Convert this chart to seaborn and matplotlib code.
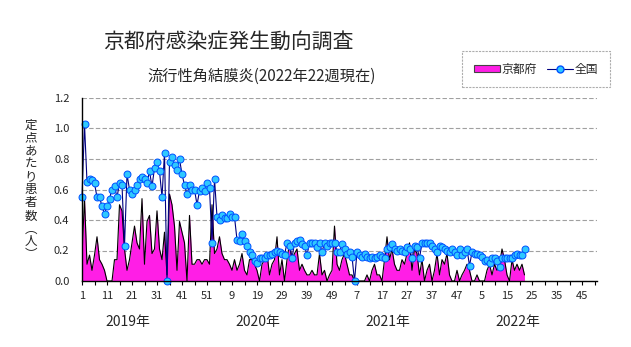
import matplotlib
matplotlib.use("Agg")
import matplotlib.pyplot as plt
import pandas as pd
import seaborn as sns
from matplotlib.patches import Patch
from matplotlib.lines import Line2D

# ---------------- data ----------------
kyoto_2019 = [0.17, 0.54, 0.11, 0.17, 0.07, 0.17, 0.29, 0.14, 0.11, 0.07,
              0.0, 0.0, 0.0, 0.14, 0.14, 0.50, 0.46, 0.21, 0.07, 0.14,
              0.25, 0.36, 0.25, 0.21, 0.54, 0.11, 0.39, 0.43, 0.18, 0.21,
              0.46, 0.21, 0.14, 0.32, 0.04, 0.57, 0.50, 0.36, 0.07, 0.39,
              0.32, 0.25, 0.0, 0.43, 0.11, 0.11, 0.14, 0.14, 0.11, 0.14,
              0.14, 0.11]
kyoto_2020 = [0.50, 0.18, 0.21, 0.29, 0.18, 0.14, 0.14, 0.11, 0.07, 0.14,
              0.07, 0.11, 0.18, 0.07, 0.04, 0.14, 0.14, 0.11, 0.07, 0.0,
              0.11, 0.14, 0.18, 0.04, 0.11, 0.14, 0.29, 0.04,
              0.14, 0.0, 0.14, 0.25, 0.14, 0.18, 0.21, 0.07, 0.11, 0.07,
              0.04, 0.04, 0.07, 0.04, 0.04, 0.18, 0.04, 0.07, 0.0, 0.04,
              0.07, 0.36, 0.11, 0.07]
kyoto_2021 = [0.14, 0.18, 0.11, 0.04, 0.04, 0.0,
              0.0, 0.0, 0.0, 0.0, 0.04, 0.0, 0.07, 0.11, 0.04, 0.04,
              0.0, 0.14, 0.29, 0.14, 0.21, 0.11, 0.07, 0.07, 0.14, 0.11,
              0.18, 0.25, 0.07, 0.21, 0.18, 0.04, 0.14, 0.0, 0.07, 0.11,
              0.0, 0.07, 0.18, 0.04, 0.14, 0.11, 0.18, 0.04, 0.0, 0.0,
              0.07, 0.0, 0.04, 0.07, 0.11, 0.07]
kyoto_2022 = [0.0, 0.0, 0.04, 0.0, 0.0, 0.0, 0.07, 0.11, 0.04, 0.11,
              0.07, 0.11, 0.21, 0.14, 0.04, 0.0, 0.14, 0.07, 0.11, 0.07,
              0.11, 0.04]

national_2019 = [0.55, 1.03, 0.65, 0.67, 0.66, 0.64, 0.55, 0.55, 0.49, 0.44,
                 0.49, 0.54, 0.60, 0.62, 0.55, 0.64, 0.63, 0.23, 0.70, 0.60,
                 0.57, 0.60, 0.63, 0.67, 0.68, 0.67, 0.64, 0.72, 0.62, 0.74,
                 0.78, 0.72, 0.55, 0.84, 0.0, 0.78, 0.81, 0.76, 0.73, 0.80,
                 0.70, 0.63, 0.57, 0.63, 0.60, 0.60, 0.50, 0.59, 0.61, 0.59,
                 0.64, 0.61]
national_2020 = [0.25, 0.67, 0.42, 0.40, 0.43, 0.41, 0.41, 0.44, 0.42, 0.42,
                 0.27, 0.26, 0.31, 0.26, 0.23, 0.19, 0.17, 0.13, 0.12, 0.15,
                 0.15, 0.15, 0.17, 0.17, 0.18, 0.19, 0.20, 0.19, 0.18, 0.17,
                 0.25, 0.23, 0.15, 0.25, 0.26, 0.27, 0.24, 0.23, 0.17, 0.25,
                 0.25, 0.25, 0.22, 0.25, 0.19, 0.25, 0.23, 0.25, 0.25, 0.25,
                 0.19, 0.19]
national_2021 = [0.24, 0.21, 0.18, 0.19, 0.16, 0.0, 0.19, 0.17, 0.16, 0.18,
                 0.16, 0.15, 0.16, 0.15, 0.16, 0.17, 0.16, 0.15, 0.21, 0.22,
                 0.24, 0.21, 0.20, 0.21, 0.20, 0.19, 0.22, 0.21, 0.15, 0.23,
                 0.22, 0.15, 0.25, 0.25, 0.25, 0.25, 0.23, 0.21, 0.19, 0.23,
                 0.22, 0.21, 0.20, 0.19, 0.21, 0.19, 0.17, 0.21, 0.17, 0.19,
                 0.21, 0.10]
national_2022 = [0.19, 0.18, 0.18, 0.17, 0.16, 0.13, 0.14, 0.12, 0.15, 0.15,
                 0.13, 0.09, 0.15, 0.15, 0.15, 0.15, 0.15, 0.17, 0.18, 0.17,
                 0.17, 0.21]

years = ["2019年", "2020年", "2021年", "2022年"]
weeks_per_year = 52
week_tick_labels = ["1", "11", "21", "31", "41", "51", "9", "19", "29", "39", "49",
                    "7", "17", "27", "37", "47", "5", "15", "25", "35", "45"]
series_names = ["京都府", "全国"]
title = "京都府感染症発生動向調査"
subtitle = "流行性角結膜炎(2022年22週現在)"
ylabel = "定点あたり患者数(人)"

kyoto = kyoto_2019 + kyoto_2020 + kyoto_2021 + kyoto_2022
national = national_2019 + national_2020 + national_2021 + national_2022
df = pd.DataFrame({"week": range(1, len(kyoto) + 1),
                   "kyoto": kyoto, "national": national})

# ---------------- style ----------------
sns.set_theme(style="white")
plt.rcParams["font.family"] = ["Noto Sans CJK JP", "DejaVu Sans"]

MAGENTA = "#ff1ee6"
fig = plt.figure(figsize=(6.31, 3.47), dpi=100)
ax = fig.add_axes([82 / 631, 1 - 281 / 347, 515 / 631, 183 / 347])

ax.fill_between(df["week"], df["kyoto"], 0, color=MAGENTA, lw=0, zorder=2)
sns.lineplot(data=df, x="week", y="kyoto", ax=ax, color="black", lw=0.8,
             legend=False, zorder=3)
sns.lineplot(data=df, x="week", y="national", ax=ax, color="#000080", lw=0.8,
             marker="o", markersize=5, markerfacecolor="#2ec8ff",
             markeredgecolor="#0050ff", markeredgewidth=0.7,
             legend=False, zorder=4, clip_on=False)

total_weeks = weeks_per_year * len(years)
ax.set_xlim(1, total_weeks - 1)
ax.set_ylim(0, 1.2)
ax.set_xlabel("")
ax.set_ylabel("")

ax.set_xticks(range(1, total_weeks, 5), minor=False)
ax.set_xticklabels([week_tick_labels[k // 2] if k % 2 == 0 else ""
                    for k in range(len(range(1, total_weeks, 5)))])
ax.set_yticks([0, 0.2, 0.4, 0.6, 0.8, 1.0, 1.2])
ax.set_yticklabels([f"{v:.1f}" for v in [0, 0.2, 0.4, 0.6, 0.8, 1.0, 1.2]])
ax.tick_params(axis="x", direction="out", length=3, width=0.8, color="black",
               labelsize=8, pad=4, bottom=True)
ax.tick_params(axis="y", length=0, labelsize=8, pad=9)
for lab in ax.get_xticklabels() + ax.get_yticklabels():
    lab.set_family(["Liberation Sans Narrow", "Noto Sans CJK JP"])

ax.yaxis.grid(True, linestyle=(0, (4, 2)), color="#a0a0a0", lw=0.8)
ax.xaxis.grid(False)
ax.set_axisbelow(True)
for s in ["top", "right"]:
    ax.spines[s].set_visible(False)
for s in ["left", "bottom"]:
    ax.spines[s].set_color("black")
    ax.spines[s].set_linewidth(1.0)
    ax.spines[s].set_zorder(5)

# year labels
for k, y in enumerate(years):
    ax.text(1 + k * weeks_per_year + 18.5, -0.27, y, transform=ax.transData,
            ha="center", va="center", fontsize=10, clip_on=False)

# titles
fig.text(228 / 631, 1 - 42 / 347, title, ha="center", va="center", fontsize=15)
fig.text(262 / 631, 1 - 76 / 347, subtitle, ha="center", va="center", fontsize=11)

# y label, stacked vertically
ychars = ["定", "点", "あ", "た", "り", "患", "者", "数", "︵", "人", "︶"]
fig.text(31 / 631, 1 - 190 / 347, "\n".join(ychars), ha="center", va="center",
         fontsize=9, linespacing=1.0)

# legend
handles = [Patch(facecolor=MAGENTA, edgecolor="#444444", linewidth=0.8),
           Line2D([0], [0], color="#000080", lw=0.8, marker="o", markersize=5,
                  markerfacecolor="#2ec8ff", markeredgecolor="#0050ff")]
leg = fig.legend(handles, series_names, loc="center",
                 bbox_to_anchor=(536 / 631, 1 - 69 / 347), ncol=2,
                 frameon=True, fancybox=False, shadow=False, fontsize=8.5,
                 handlelength=2.2, handleheight=0.5, handletextpad=0.2,
                 columnspacing=0.8, borderpad=1.0)
leg.get_frame().set_edgecolor("#999999")
leg.get_frame().set_linewidth(0.8)
leg.get_frame().set_linestyle((0, (2, 1)))

fig.savefig("out.png", dpi=100)
